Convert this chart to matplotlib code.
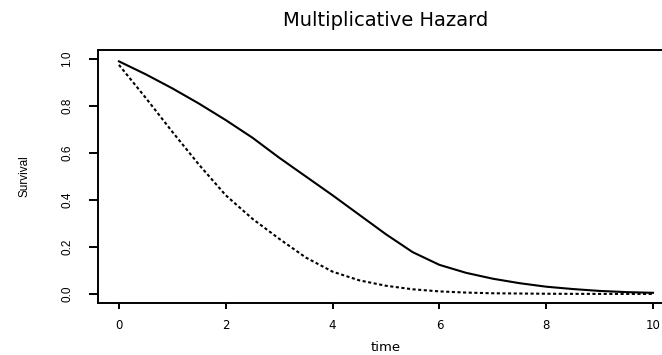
import matplotlib
matplotlib.use("Agg")
import matplotlib.pyplot as plt
import numpy as np

# survival curves
time = [0, 0.5, 1, 1.5, 2, 2.5, 3, 3.5, 4, 4.5, 5, 5.5, 6, 6.5, 7, 7.5, 8, 8.5, 9, 9.5, 10]
surv_base = [0.99, 0.935, 0.875, 0.81, 0.74, 0.665, 0.58, 0.50, 0.42, 0.337, 0.254, 0.178,
             0.124, 0.09, 0.065, 0.046, 0.031, 0.021, 0.013, 0.008, 0.005]
surv_mult = [0.975, 0.835, 0.69, 0.55, 0.42, 0.32, 0.235, 0.155, 0.095, 0.058, 0.035, 0.02,
             0.011, 0.006, 0.003, 0.002, 0.001, 0.0005, 0.0003, 0.0002, 0.0001]

xticks = [0, 2, 4, 6, 8, 10]
yticks = [0.0, 0.2, 0.4, 0.6, 0.8, 1.0]
ytick_labels = ["0.0", "0.2", "0.4", "0.6", "0.8", "1.0"]

fig = plt.figure(figsize=(6.62, 3.55), dpi=100)
# axes run past the right edge, like the cropped original
ax = fig.add_axes([0.1474, 0.1454, 0.8713, 0.7149])

ax.plot(time, surv_base, color="black", lw=1.5)
ax.plot(time, surv_mult, color="black", lw=1.5, linestyle=(0, (1.5, 1.2)))

ax.set_xlim(-0.4, 10.4)
ax.set_ylim(-0.04, 1.04)

for s in ax.spines.values():
    s.set_linewidth(1.4)
ax.spines["right"].set_visible(False)

ax.set_xticks(xticks)
ax.set_xticklabels([str(v) for v in xticks], family="DejaVu Sans", fontsize=8.5)
ax.set_yticks(yticks)
ax.set_yticklabels(ytick_labels, family="Liberation Sans", fontsize=8.5,
                   rotation=90, va="center")
ax.tick_params(axis="x", length=4.5, width=1.4, pad=7)
ax.tick_params(axis="y", length=6.5, width=1.4, pad=11)

ax.set_xlabel("time", family="DejaVu Sans", fontsize=9.5, va="center")
ax.xaxis.set_label_coords(0.5, -0.172)
ax.set_ylabel("Survival", family="Liberation Sans", fontsize=8.5, va="center")
ax.yaxis.set_label_coords(-0.126, 0.5)

ax.set_title("Multiplicative Hazard", family="DejaVu Sans", fontsize=14, pad=17)

fig.savefig("out.png", dpi=100)
